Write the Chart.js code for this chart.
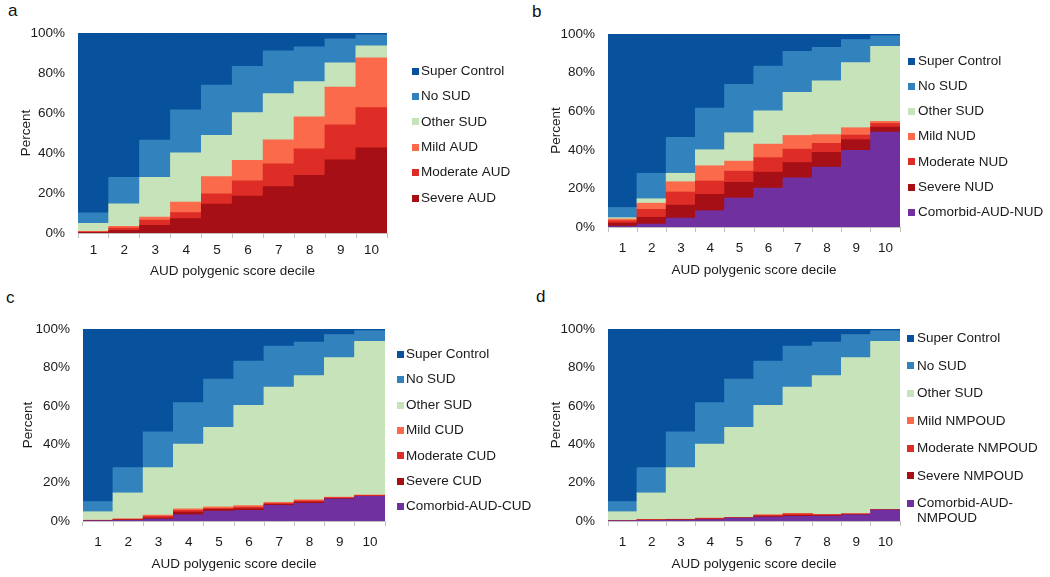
<!DOCTYPE html>
<html>
<head>
<meta charset="utf-8">
<script src="https://cdn.jsdelivr.net/npm/chart.js@4.4.1/dist/chart.umd.min.js"></script>
<style>
  html, body { margin: 0; padding: 0; background: #ffffff; }
  body { width: 1050px; height: 577px; position: relative; overflow: hidden; font-family: "Liberation Sans", Arial, sans-serif; }
  .panel { position: absolute; }
  .letter { position: absolute; font-size: 17px; color: #111; font-family: "Liberation Sans", Arial, sans-serif; }
</style>
</head>
<body>
<div class="letter" style="left:8px;top:1px;">a</div>
<div class="letter" style="left:532px;top:2px;">b</div>
<div class="letter" style="left:6px;top:288px;">c</div>
<div class="letter" style="left:536px;top:287px;">d</div>

<div class="panel" id="pa" style="left:0px;top:0px;width:525px;height:288px;"><canvas id="ca"></canvas></div>
<div class="panel" id="pb" style="left:525px;top:0px;width:525px;height:288px;"><canvas id="cb"></canvas></div>
<div class="panel" id="pd" style="left:525px;top:290px;width:525px;height:287px;"><canvas id="cd"></canvas></div>
<div class="panel" id="pc" style="left:0px;top:290px;width:560px;height:287px;"><canvas id="cc"></canvas></div>

<script>
// ---------------- DATA ----------------
const deciles = ['1', '2', '3', '4', '5', '6', '7', '8', '9', '10'];
const yTickValues = [0, 20, 40, 60, 80, 100];

// shared across panels (percent)
const superControl = [90.0, 72.3, 53.7, 38.5, 26.2, 16.8, 9.1, 7.0, 3.0, 1.0];
const noSUD        = [5.3, 13.2, 18.6, 21.6, 25.1, 23.1, 21.3, 17.4, 12.0, 5.5];

// panel a: AUD
const otherSUD_A  = [4.0, 11.3, 19.9, 24.6, 20.6, 23.9, 23.1, 17.6, 12.2, 6.0];
const mildAUD     = [0.3, 0.9, 1.5, 5.2, 8.7, 10.3, 12.1, 16.0, 18.8, 24.9];
const moderateAUD = [0.2, 1.1, 2.6, 3.0, 5.1, 7.6, 11.3, 13.3, 17.5, 20.1];
const severeAUD   = [0.2, 1.2, 3.7, 7.1, 14.3, 18.3, 23.1, 28.7, 36.5, 42.5];

// panel b: NUD
const otherSUD_B     = [0.7, 2.3, 4.4, 8.3, 14.7, 17.3, 22.3, 27.9, 33.7, 38.9];
const mildNUD        = [0.9, 3.2, 5.3, 7.9, 5.2, 7.0, 7.1, 4.5, 3.8, 1.1];
const moderateNUD    = [1.2, 4.1, 6.8, 6.9, 5.8, 7.5, 6.9, 4.7, 2.4, 1.9];
const severeNUD      = [1.6, 3.5, 6.7, 8.5, 8.1, 8.3, 7.9, 7.6, 5.5, 2.6];
const comorbidAUDNUD = [0.3, 1.4, 4.5, 8.3, 14.9, 20.0, 25.4, 30.9, 39.6, 49.0];

// panel c: CUD
const otherSUD_C     = [4.4, 13.5, 24.8, 33.7, 41.5, 52.2, 60.0, 64.7, 72.7, 80.1];
const mildCUD        = [0.1, 0.2, 0.6, 0.8, 0.8, 0.8, 0.6, 0.5, 0.3, 0.2];
const moderateCUD    = [0.1, 0.3, 0.9, 0.9, 0.5, 0.8, 0.5, 0.7, 0.4, 0.4];
const severeCUD      = [0.1, 0.3, 0.5, 1.4, 0.9, 0.9, 0.5, 0.7, 0.3, 0.1];
const comorbidAUDCUD = [0.0, 0.2, 0.9, 3.1, 5.0, 5.4, 8.0, 9.0, 11.3, 12.7];

// panel d: NMPOUD
const otherSUD_D        = [4.7, 13.8, 26.9, 38.5, 47.0, 57.0, 65.8, 72.3, 81.3, 87.6];
const mildNMPOUD        = [0.0, 0.1, 0.1, 0.2, 0.1, 0.2, 0.2, 0.1, 0.1, 0.1];
const moderateNMPOUD    = [0.0, 0.2, 0.2, 0.3, 0.1, 0.6, 0.8, 0.5, 0.3, 0.1];
const severeNMPOUD      = [0.0, 0.2, 0.2, 0.3, 0.1, 0.4, 0.5, 0.3, 0.2, 0.1];
const comorbidAUDNMPOUD = [0.0, 0.2, 0.3, 0.6, 1.4, 1.9, 2.3, 2.4, 3.1, 5.6];

// ---------------- STYLE ----------------
const COL = {
  superC: '#08519c', noSUD: '#3282be', other: '#c7e3ba',
  mild: '#fb6a4a', moderate: '#de2d26', severe: '#a50f15', comorbid: '#7030a0'
};
const FONT_FAMILY = '"Liberation Sans", Arial, Helvetica, sans-serif';
const FONT_SIZE = 13.5;
const TEXT_COLOR = '#1a1a1a';
Chart.defaults.font.family = FONT_FAMILY;
Chart.defaults.font.size = FONT_SIZE;
Chart.defaults.color = TEXT_COLOR;

const sideLegend = {
  id: 'sideLegend',
  afterDraw(chart, args, opts) {
    const ctx = chart.ctx;
    const ds = chart.data.datasets;
    ctx.save();
    ctx.font = FONT_SIZE + 'px ' + FONT_FAMILY;
    ctx.textBaseline = 'middle';
    ctx.textAlign = 'left';
    for (let i = 0; i < ds.length; i++) {
      const d = ds[ds.length - 1 - i];
      const y = opts.y0 + i * opts.dy;
      ctx.fillStyle = d.backgroundColor;
      ctx.fillRect(opts.box, Math.round(y - 3.5), 7, 7);
      ctx.fillStyle = TEXT_COLOR;
      d.label.split('\n').forEach((ln, k) => ctx.fillText(ln, opts.text, y + k * 15.4));
    }
    ctx.restore();
  }
};

function ds(label, data, color) {
  return { label, data, backgroundColor: color, borderWidth: 0, barPercentage: 1, categoryPercentage: 1, inflateAmount: 0.6 };
}

function makeChart(canvasId, containerW, containerH, L, datasets) {
  const TL = 5;                      // tick mark length
  const half = FONT_SIZE * 1.2 / 2;  // half line height
  const titleOff = half + 4;
  const padLeft = L.yTitleX - titleOff;
  const yWidth = L.area[0] - padLeft;
  const xHeight = (L.xTitleY + titleOff) - L.area[3];
  const padBottom = containerH - L.area[3] - xHeight;
  const padRight = containerW - L.area[2];
  const xTickPad = (L.xTickY - L.area[3]) - TL - half;

  return new Chart(document.getElementById(canvasId), {
    type: 'bar',
    data: { labels: deciles, datasets },
    plugins: [sideLegend],
    options: {
      responsive: true,
      maintainAspectRatio: false,
      animation: false,
      devicePixelRatio: 1,
      layout: { padding: { left: padLeft, top: L.area[1], right: padRight, bottom: padBottom } },
      plugins: {
        legend: { display: false },
        tooltip: { enabled: false },
        sideLegend: L.legend
      },
      scales: {
        x: {
          stacked: true,
          offset: true,
          grid: { display: true, offset: true, drawOnChartArea: false, drawTicks: true, tickLength: TL, color: '#bfbfbf' },
          border: { display: true, color: '#bfbfbf' },
          ticks: { padding: xTickPad, maxRotation: 0, autoSkip: false, color: TEXT_COLOR },
          title: { display: true, text: 'AUD polygenic score decile', color: TEXT_COLOR, padding: { top: 4, bottom: 4 } },
          afterFit(scale) { scale.height = xHeight; }
        },
        y: {
          stacked: true,
          min: 0, max: 100,
          afterBuildTicks(scale) { scale.ticks = yTickValues.map(v => ({ value: v })); },
          grid: { display: false, drawTicks: false },
          border: { display: false },
          ticks: { padding: 13, color: TEXT_COLOR, callback: v => v + '%' },
          title: { display: true, text: 'Percent', color: TEXT_COLOR, padding: { top: 4, bottom: 4 } },
          afterFit(scale) { scale.width = yWidth; }
        }
      }
    }
  });
}

// panel a
makeChart('ca', 525, 288,
  { area: [78, 33, 387, 233], yTitleX: 26, xTickY: 250, xTitleY: 271,
    legend: { box: 412, text: 421, y0: 71, dy: 25.4 } },
  [
    ds('Severe AUD', severeAUD, COL.severe),
    ds('Moderate AUD', moderateAUD, COL.moderate),
    ds('Mild AUD', mildAUD, COL.mild),
    ds('Other SUD', otherSUD_A, COL.other),
    ds('No SUD', noSUD, COL.noSUD),
    ds('Super Control', superControl, COL.superC)
  ]);

// panel b
makeChart('cb', 525, 288,
  { area: [83, 34, 375, 227], yTitleX: 31, xTickY: 248, xTitleY: 270,
    legend: { box: 383, text: 393, y0: 61, dy: 25.2 } },
  [
    ds('Comorbid-AUD-NUD', comorbidAUDNUD, COL.comorbid),
    ds('Severe NUD', severeNUD, COL.severe),
    ds('Moderate NUD', moderateNUD, COL.moderate),
    ds('Mild NUD', mildNUD, COL.mild),
    ds('Other SUD', otherSUD_B, COL.other),
    ds('No SUD', noSUD, COL.noSUD),
    ds('Super Control', superControl, COL.superC)
  ]);

// panel c
makeChart('cc', 560, 287,
  { area: [83, 39, 385, 231], yTitleX: 28, xTickY: 252, xTitleY: 274,
    legend: { box: 397, text: 406, y0: 64.3, dy: 25.4 } },
  [
    ds('Comorbid-AUD-CUD', comorbidAUDCUD, COL.comorbid),
    ds('Severe CUD', severeCUD, COL.severe),
    ds('Moderate CUD', moderateCUD, COL.moderate),
    ds('Mild CUD', mildCUD, COL.mild),
    ds('Other SUD', otherSUD_C, COL.other),
    ds('No SUD', noSUD, COL.noSUD),
    ds('Super Control', superControl, COL.superC)
  ]);

// panel d
makeChart('cd', 525, 287,
  { area: [83, 39, 375, 231], yTitleX: 31, xTickY: 252, xTitleY: 274,
    legend: { box: 382, text: 392, y0: 48.3, dy: 27.5 } },
  [
    ds('Comorbid-AUD-\nNMPOUD', comorbidAUDNMPOUD, COL.comorbid),
    ds('Severe NMPOUD', severeNMPOUD, COL.severe),
    ds('Moderate NMPOUD', moderateNMPOUD, COL.moderate),
    ds('Mild NMPOUD', mildNMPOUD, COL.mild),
    ds('Other SUD', otherSUD_D, COL.other),
    ds('No SUD', noSUD, COL.noSUD),
    ds('Super Control', superControl, COL.superC)
  ]);
</script>
</body>
</html>
